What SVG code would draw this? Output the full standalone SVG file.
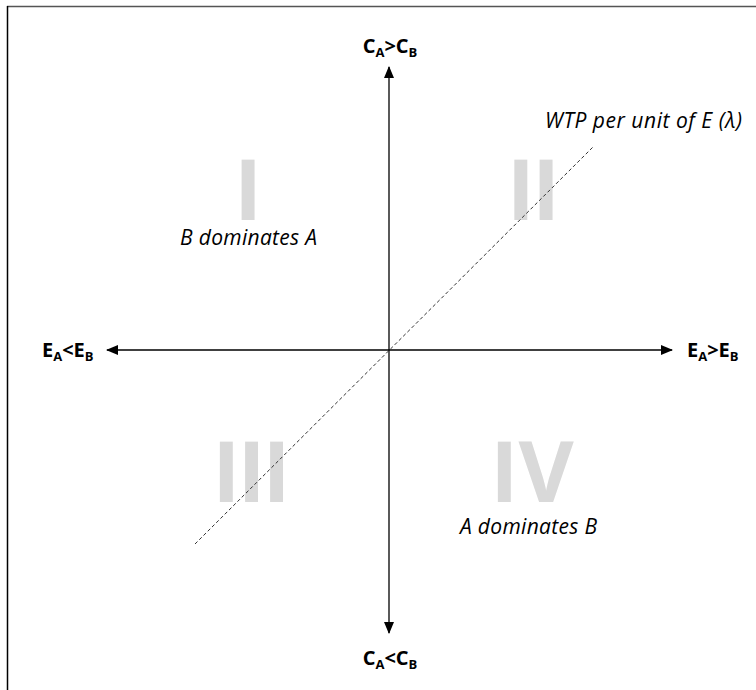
<svg xmlns="http://www.w3.org/2000/svg" width="756" height="690" viewBox="0 0 756 690">
<style>
.axis{stroke:#000;stroke-width:1.3;fill:none}
.lbl{font-family:"Open Sans","Liberation Sans",sans-serif;font-weight:bold;font-size:20px;fill:#000}
.sub{font-size:13px}
.it{font-family:"Open Sans","Liberation Sans",sans-serif;font-style:italic;font-size:21px;fill:#000}
.num{font-family:"Open Sans","Liberation Sans",sans-serif;font-weight:bold;font-size:85px;fill:#d9d9d9}
.tight{letter-spacing:-3px}
</style>
<defs>
<marker id="ah" viewBox="0 0 12 10" refX="11" refY="5" markerWidth="12" markerHeight="10" markerUnits="userSpaceOnUse" orient="auto">
<path d="M0,0 L12,5 L0,10 Z" fill="#000"/>
</marker>
</defs>
<rect width="756" height="690" fill="#fff"/>
<g id="frame">
<line x1="7" y1="6.5" x2="756" y2="6.5" stroke="#555" stroke-width="1.5"/>
<line x1="7.5" y1="6" x2="7.5" y2="690" stroke="#000" stroke-width="1.5"/>
</g>
<g id="numerals">
<text class="num" x="248" y="220" text-anchor="middle">I</text>
<text class="num tight" x="532" y="220" text-anchor="middle">II</text>
<text class="num tight" x="250" y="502" text-anchor="middle">III</text>
<text class="num" x="532" y="502" text-anchor="middle">IV</text>
</g>
<g id="connectors">
<line class="axis" x1="389" y1="350" x2="389" y2="67" marker-end="url(#ah)"/>
<line class="axis" x1="389" y1="350" x2="389" y2="633" marker-end="url(#ah)"/>
<line class="axis" x1="389" y1="350" x2="107" y2="350" marker-end="url(#ah)"/>
<line class="axis" x1="389" y1="350" x2="672" y2="350" marker-end="url(#ah)"/>
<line id="wtp-line" x1="195" y1="544" x2="594" y2="146" stroke="#333" stroke-width="1" stroke-dasharray="3.5,2.5"/>
</g>
<g id="label-top"><text class="lbl" x="390" y="53" text-anchor="middle">C<tspan class="sub" dy="4">A</tspan><tspan dy="-4">&gt;C</tspan><tspan class="sub" dy="4">B</tspan></text></g>
<g id="label-bottom"><text class="lbl" x="390" y="665" text-anchor="middle">C<tspan class="sub" dy="4">A</tspan><tspan dy="-4">&lt;C</tspan><tspan class="sub" dy="4">B</tspan></text></g>
<g id="label-left"><text class="lbl" x="42" y="357">E<tspan class="sub" dy="4">A</tspan><tspan dy="-4">&lt;E</tspan><tspan class="sub" dy="4">B</tspan></text></g>
<g id="label-right"><text class="lbl" x="687" y="357">E<tspan class="sub" dy="4">A</tspan><tspan dy="-4">&gt;E</tspan><tspan class="sub" dy="4">B</tspan></text></g>
<g id="label-wtp"><text class="it" x="545" y="128" textLength="197" lengthAdjust="spacing">WTP per unit of E (λ)</text></g>
<g id="label-b-dom"><text class="it" x="180" y="245" textLength="137" lengthAdjust="spacing">B dominates A</text></g>
<g id="label-a-dom"><text class="it" x="460" y="534" textLength="137" lengthAdjust="spacing">A dominates B</text></g>
</svg>
